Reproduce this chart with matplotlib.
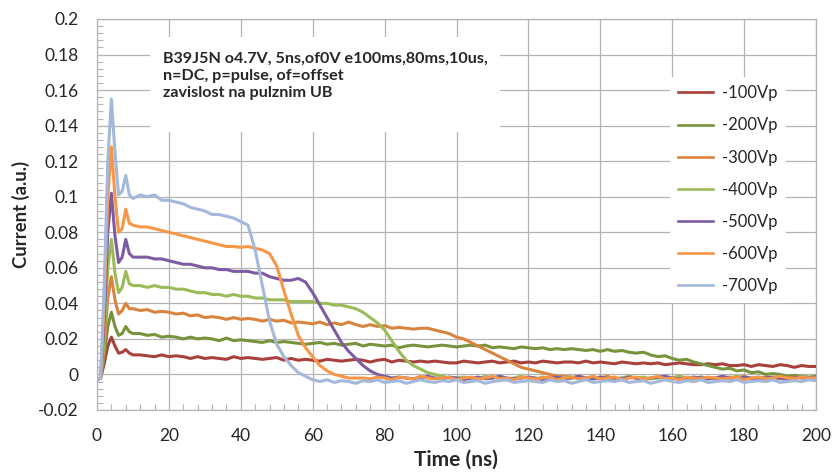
import matplotlib
matplotlib.use("Agg")
import matplotlib.pyplot as plt
from matplotlib.ticker import MultipleLocator
from matplotlib.patches import Rectangle

# ---------------- data ----------------
time_ns = [0, 1, 2, 3, 4, 5, 6, 7, 8, 9, 10] + list(range(12, 201, 2))

series_labels = ["-100Vp", "-200Vp", "-300Vp", "-400Vp", "-500Vp", "-600Vp", "-700Vp"]

cur_100 = [-0.003, -0.002, 0.006, 0.016, 0.021, 0.016, 0.012, 0.0125, 0.014, 0.012, 0.011,
           0.011, 0.0105, 0.010, 0.011, 0.010, 0.0105, 0.010, 0.009, 0.010, 0.009,
           0.0095, 0.009, 0.0085, 0.010, 0.009, 0.0095, 0.009, 0.0085, 0.009, 0.0095,
           0.008, 0.009, 0.008, 0.0085, 0.008, 0.0075, 0.0085, 0.008, 0.0075, 0.008,
           0.0085, 0.008, 0.007, 0.008, 0.0085, 0.007, 0.008, 0.0075, 0.007, 0.0075,
           0.007, 0.0075, 0.007, 0.0065, 0.0065, 0.0075, 0.007, 0.0065, 0.007, 0.0075,
           0.0065, 0.007, 0.0075, 0.0065, 0.007, 0.0065, 0.0075, 0.007, 0.0065, 0.007,
           0.007, 0.0065, 0.0075, 0.0065, 0.007, 0.0065, 0.006, 0.007, 0.0065, 0.006,
           0.0065, 0.006, 0.0065, 0.0055, 0.006, 0.0065, 0.006, 0.0055, 0.0055, 0.006,
           0.0055, 0.006, 0.005, 0.005, 0.0055, 0.0045, 0.0055, 0.005, 0.0045, 0.0055,
           0.005, 0.004, 0.005, 0.0045, 0.0045]

cur_200 = [-0.003, -0.002, 0.010, 0.027, 0.035, 0.027, 0.022, 0.023, 0.027, 0.024, 0.023,
           0.023, 0.022, 0.0225, 0.021, 0.0215, 0.021, 0.020, 0.021, 0.020, 0.0205,
           0.020, 0.019, 0.0205, 0.019, 0.0195, 0.019, 0.0185, 0.018, 0.019, 0.018,
           0.0185, 0.018, 0.0175, 0.017, 0.0175, 0.018, 0.017, 0.0175, 0.0165, 0.017,
           0.0175, 0.016, 0.017, 0.0165, 0.016, 0.0165, 0.015, 0.016, 0.0165, 0.016,
           0.0155, 0.016, 0.0165, 0.016, 0.0155, 0.016, 0.0165, 0.016, 0.0165, 0.015,
           0.0155, 0.015, 0.0145, 0.0155, 0.015, 0.0145, 0.015, 0.014, 0.0145, 0.014,
           0.0145, 0.014, 0.0135, 0.014, 0.013, 0.014, 0.013, 0.0135, 0.0125, 0.012,
           0.0125, 0.011, 0.010, 0.0105, 0.009, 0.008, 0.0085, 0.007, 0.006, 0.005,
           0.004, 0.003, 0.0035, 0.002, 0.0025, 0.001, 0.0015, 0.000, 0.0005, 0.000,
           -0.001, -0.0005, -0.001, -0.0015, -0.001]

cur_300 = [-0.003, -0.002, 0.015, 0.043, 0.055, 0.042, 0.034, 0.036, 0.040, 0.037, 0.037,
           0.036, 0.0365, 0.035, 0.0355, 0.035, 0.034, 0.0345, 0.033, 0.0335, 0.032,
           0.0325, 0.032, 0.031, 0.032, 0.031, 0.0315, 0.031, 0.030, 0.031, 0.030,
           0.0305, 0.029, 0.0295, 0.029, 0.0285, 0.0295, 0.028, 0.029, 0.028, 0.0295,
           0.028, 0.027, 0.028, 0.027, 0.0275, 0.026, 0.0265, 0.026, 0.0255, 0.026,
           0.026, 0.025, 0.024, 0.023, 0.021, 0.020, 0.018, 0.016, 0.014, 0.012,
           0.010, 0.008, 0.006, 0.004, 0.003, 0.002, 0.001, 0.000, -0.001, -0.001,
           -0.0015, -0.002, -0.0025, -0.0015, -0.002, -0.001, -0.0025, -0.002, -0.0015, -0.002,
           -0.003, -0.002, -0.0015, -0.0025, -0.002, -0.001, -0.002, -0.0025, -0.0015, -0.002,
           -0.0025, -0.002, -0.0015, -0.002, -0.001, -0.0025, -0.002, -0.0015, -0.002, -0.0025,
           -0.002, -0.0015, -0.002, -0.0025, -0.002]

cur_400 = [-0.003, -0.002, 0.020, 0.060, 0.076, 0.057, 0.046, 0.049, 0.058, 0.051, 0.050,
           0.050, 0.049, 0.050, 0.049, 0.049, 0.048, 0.048, 0.047, 0.046, 0.046,
           0.045, 0.045, 0.044, 0.045, 0.044, 0.044, 0.043, 0.043, 0.042, 0.042,
           0.042, 0.041, 0.041, 0.041, 0.041, 0.040, 0.040, 0.039, 0.039, 0.038, 0.037,
           0.035, 0.032, 0.029, 0.025, 0.019, 0.013, 0.008, 0.005, 0.003, 0.001, 0.000, -0.001, -0.002,
           -0.002, -0.0015, -0.002, -0.0025, -0.001, -0.002, -0.0015, -0.0025, -0.002, -0.001,
           -0.002, -0.0025, -0.0015, -0.002, -0.003, -0.0015, -0.002, -0.001, -0.002, -0.0025,
           -0.0015, -0.002, -0.0025, -0.002, -0.001, -0.002, -0.0015, -0.0025, -0.002, -0.0015,
           -0.002, -0.001, -0.0025, -0.002, -0.0015, -0.002, -0.0025, -0.0015, -0.002, -0.001,
           -0.002, -0.0025, -0.0015, -0.002, -0.002, -0.0015, -0.0025, -0.002, -0.001, -0.002, -0.002]

cur_500 = [-0.003, -0.002, 0.030, 0.080, 0.102, 0.078, 0.063, 0.066, 0.076, 0.068, 0.066,
           0.066, 0.066, 0.065, 0.065, 0.064, 0.063, 0.062, 0.062, 0.061, 0.060,
           0.060, 0.059, 0.059, 0.058, 0.058, 0.058, 0.057, 0.057, 0.055, 0.054,
           0.053, 0.053, 0.054, 0.052,
           0.046, 0.039, 0.032, 0.025, 0.018, 0.013, 0.009, 0.005, 0.002, 0.000, -0.001, -0.002,
           -0.0015, -0.002, -0.0025, -0.002, -0.001, -0.002, -0.0025, -0.0015, -0.002, -0.003,
           -0.002, -0.0015, -0.0025, -0.002, -0.001, -0.002, -0.0025, -0.002, -0.0015, -0.002,
           -0.003, -0.002, -0.0015, -0.0025, -0.002, -0.001, -0.002, -0.0025, -0.0015, -0.002,
           -0.002, -0.0025, -0.0015, -0.002, -0.003, -0.002, -0.0015, -0.001, -0.002, -0.0025,
           -0.002, -0.0015, -0.002, -0.0025, -0.002, -0.001, -0.002, -0.0025, -0.0015, -0.002,
           -0.0025, -0.002, -0.0015, -0.002, -0.003, -0.002, -0.0015, -0.002, -0.002]

cur_600 = [-0.003, -0.002, 0.040, 0.100, 0.128, 0.100, 0.080, 0.082, 0.093, 0.085, 0.084,
           0.083, 0.083, 0.082, 0.081, 0.080, 0.079, 0.078, 0.077, 0.076, 0.075,
           0.074, 0.073, 0.072, 0.072, 0.0715, 0.072, 0.071, 0.070, 0.068,
           0.061, 0.047, 0.034, 0.022, 0.015, 0.010, 0.005, 0.002, 0.000, -0.001, -0.002, -0.002,
           -0.002, -0.0025, -0.0015, -0.002, -0.003, -0.0015, -0.002, -0.0025, -0.001, -0.002,
           -0.0025, -0.002, -0.0015, -0.003, -0.002, -0.0015, -0.0025, -0.002, -0.001, -0.0025,
           -0.002, -0.003, -0.0015, -0.002, -0.0025, -0.002, -0.0015, -0.003, -0.002, -0.0015,
           -0.0025, -0.002, -0.001, -0.0025, -0.002, -0.0015, -0.003, -0.002, -0.0015, -0.0025,
           -0.002, -0.001, -0.0025, -0.002, -0.003, -0.0015, -0.002, -0.0025, -0.0015, -0.002,
           -0.0025, -0.002, -0.0015, -0.003, -0.002, -0.0015, -0.0025, -0.002, -0.001, -0.002,
           -0.0025, -0.0015, -0.002, -0.002]

cur_700 = [-0.003, -0.002, 0.050, 0.120, 0.155, 0.125, 0.101, 0.103, 0.112, 0.101, 0.099,
           0.101, 0.100, 0.101, 0.098, 0.098, 0.097, 0.096, 0.094, 0.093, 0.092,
           0.090, 0.090, 0.089, 0.088, 0.086, 0.084,
           0.070, 0.050, 0.030, 0.017, 0.010, 0.005, 0.001, -0.001, -0.003,
           -0.004, -0.003, -0.0045, -0.0035, -0.004, -0.005, -0.0035, -0.004, -0.003, -0.0045,
           -0.004, -0.0035, -0.005, -0.004, -0.003, -0.004, -0.0045, -0.0035, -0.004, -0.003,
           -0.0045, -0.004, -0.0035, -0.005, -0.004, -0.0035, -0.003, -0.0045, -0.004, -0.0035,
           -0.004, -0.0045, -0.003, -0.004, -0.0035, -0.005, -0.004, -0.003, -0.0045, -0.004,
           -0.0035, -0.004, -0.003, -0.0045, -0.004, -0.0035, -0.005, -0.004, -0.003, -0.004,
           -0.0045, -0.0035, -0.004, -0.003, -0.0045, -0.004, -0.0035, -0.004, -0.003, -0.0045,
           -0.004, -0.0035, -0.004, -0.003, -0.0045, -0.004, -0.0035, -0.004, -0.003, -0.0035]

series_values = [cur_100, cur_200, cur_300, cur_400, cur_500, cur_600, cur_700]

x_ticks = list(range(0, 201, 20))
y_ticks = [-0.02, 0.0, 0.02, 0.04, 0.06, 0.08, 0.1, 0.12, 0.14, 0.16, 0.18, 0.2]
y_tick_labels = ["-0.02", "0", "0.02", "0.04", "0.06", "0.08", "0.1",
                 "0.12", "0.14", "0.16", "0.18", "0.2"]

note_text = ("B39J5N o4.7V, 5ns,of0V e100ms,80ms,10us,\n"
             "n=DC, p=pulse, of=offset\n"
             "zavislost na pulznim UB")

# ---------------- style ----------------
colors = ["#A8403C", "#77933C", "#D9843E", "#9BBB59", "#7E5CA2", "#F79646", "#A3B8DA"]
grid_col = "#B4B4B4"
txt_col = "#262626"
FONT = ["Lato", "DejaVu Sans"]
plt.rcParams["font.family"] = FONT

W, H = 832, 474
fig = plt.figure(figsize=(W / 100, H / 100), dpi=100)
L, R, T, B = 97, 816, 19, 410
ax = fig.add_axes([L / W, 1 - B / H, (R - L) / W, (B - T) / H])

for vals, lab, col in zip(series_values, series_labels, colors):
    ax.plot(time_ns, vals, color=col, lw=2.2, label=lab, zorder=3,
            solid_joinstyle="round")

ax.set_xlim(0, 200)
ax.set_ylim(-0.02, 0.2)
ax.set_xticks(x_ticks)
ax.set_yticks(y_ticks)
ax.set_yticklabels(y_tick_labels)
ax.xaxis.set_minor_locator(MultipleLocator(4))
ax.yaxis.set_minor_locator(MultipleLocator(0.004))
ax.tick_params(which="major", length=0, pad=13, labelsize=12.5, labelcolor=txt_col)
ax.tick_params(which="minor", direction="in", length=4, width=0.8, color=grid_col)
ax.set_axisbelow(True)
ax.grid(True, which="major", color=grid_col, lw=0.9)
for s in ax.spines.values():
    s.set_color(grid_col)
    s.set_linewidth(0.9)

# white box behind note
ax.add_patch(Rectangle((0.0737, 0.711), 0.4868, 0.243, transform=ax.transAxes,
                       facecolor="white", edgecolor="none", zorder=1.5))
ax.text(0.0918, 0.916, note_text, transform=ax.transAxes, ha="left", va="top",
        fontsize=11.6, fontweight="bold", color=txt_col, linespacing=1.3, zorder=4)

leg = ax.legend(loc="upper left", bbox_to_anchor=(0.797, 0.852), borderaxespad=0,
                frameon=True, fancybox=False, facecolor="white", edgecolor="none",
                framealpha=1, fontsize=12, handlelength=2.1, handletextpad=0.5,
                labelspacing=0.97, borderpad=0.5)
for line in leg.get_lines():
    line.set_linewidth(1.9)
for t in leg.get_texts():
    t.set_color(txt_col)

fig.text(456 / W, 1 - 460 / H, "Time (ns)", ha="center", va="center",
         fontsize=15, fontweight="bold", color=txt_col)
fig.text(21 / W, 1 - 214 / H, "Current (a.u.)", ha="center", va="center",
         rotation=90, fontsize=13.3, fontweight="bold", color=txt_col)

fig.savefig("out.png", dpi=100)
